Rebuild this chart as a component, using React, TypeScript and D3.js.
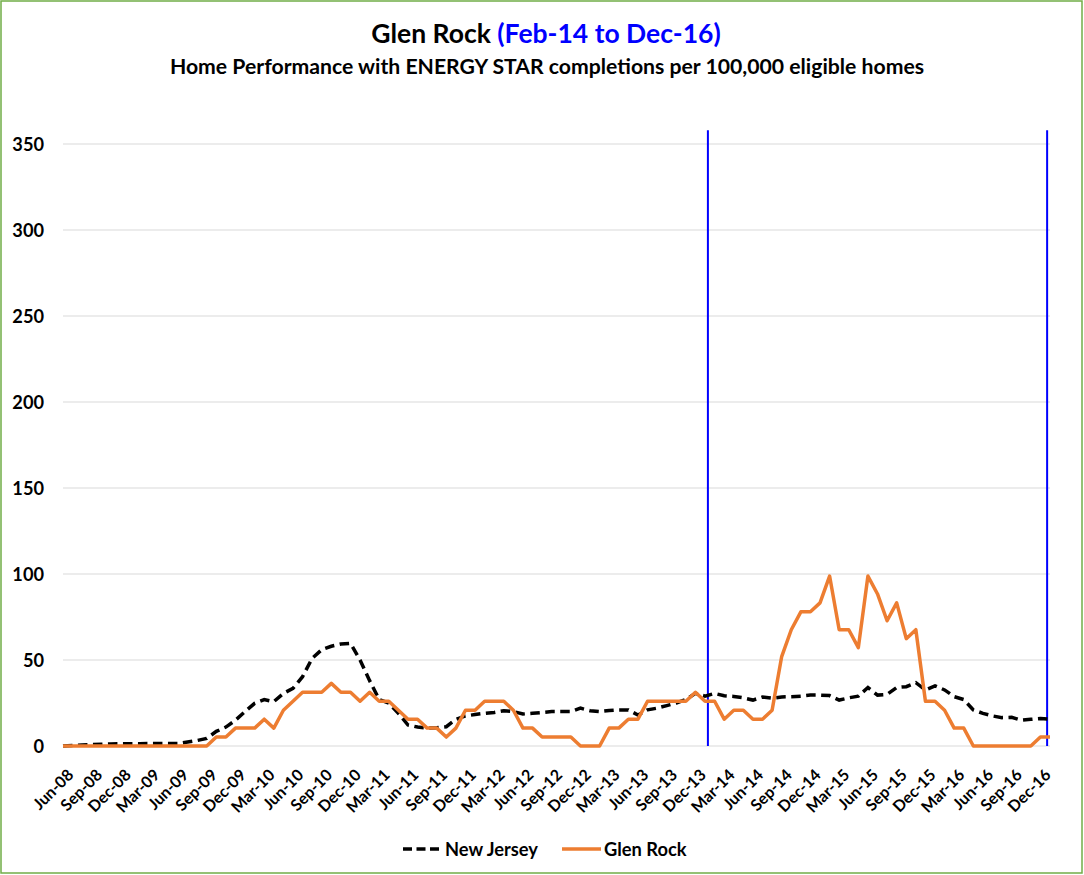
import React from 'react';
import * as d3 from 'd3';

// monthly categories, Jun-08 .. Jan-17
const months: string[] = d3
  .timeMonths(new Date(2008, 5, 1), new Date(2017, 1, 1))
  .map(d3.timeFormat('%b-%y'));

const tickLabels = [
  'Jun-08', 'Sep-08', 'Dec-08', 'Mar-09', 'Jun-09', 'Sep-09', 'Dec-09',
  'Mar-10', 'Jun-10', 'Sep-10', 'Dec-10', 'Mar-11', 'Jun-11', 'Sep-11',
  'Dec-11', 'Mar-12', 'Jun-12', 'Sep-12', 'Dec-12', 'Mar-13', 'Jun-13',
  'Sep-13', 'Dec-13', 'Mar-14', 'Jun-14', 'Sep-14', 'Dec-14', 'Mar-15',
  'Jun-15', 'Sep-15', 'Dec-15', 'Mar-16', 'Jun-16', 'Sep-16', 'Dec-16',
];

const newJersey = [
  0, 0.3, 0.6, 0.8, 1, 1.2, 1.3, 1.3, 1.3, 1.4, 1.4, 1.4, 1.5, 2.3, 3.2, 4.4,
  8.5, 11, 15, 20, 24.8, 27, 25.8, 30.6, 33.5, 40.3, 51, 56, 58, 59.3, 59.7, 50,
  38, 27, 25, 19, 12.2, 11, 10.4, 10.6, 11.2, 15.5, 17.5, 18.3, 19, 19.5, 20.5, 20,
  18.6, 19, 19.5, 20, 20, 20, 22, 20.5, 20, 20.6, 21, 21, 18, 21, 22, 23.5,
  25, 27, 30.6, 29, 30.6, 29.2, 28.8, 28, 26.7, 28.5, 27.8, 28.5, 28.7, 29, 29.6, 29.6,
  29.3, 26.7, 28, 29, 34, 29.6, 30, 34, 34.5, 36.8, 32.6, 35, 32.6, 28.7, 27, 21,
  19, 17.5, 16.5, 16.7, 15, 15.5, 16, 15.5,
];

const glenRock = [
  0, 0, 0, 0, 0, 0, 0, 0, 0, 0, 0, 0, 0, 0, 0, 0,
  5.2, 5.2, 10.4, 10.4, 10.4, 15.6, 10.4, 20.8, 26, 31.2, 31.2, 31.2, 36.4, 31.2, 31.2, 26,
  31.2, 26, 26, 20.8, 15.6, 15.6, 10.4, 10.4, 5.2, 10.4, 20.8, 20.8, 26, 26, 26, 20.8,
  10.4, 10.4, 5.2, 5.2, 5.2, 5.2, 0, 0, 0, 10.4, 10.4, 15.6, 15.6, 26, 26, 26,
  26, 26, 31.2, 26, 26, 15.6, 20.8, 20.8, 15.6, 15.6, 20.8, 52, 67.6, 78, 78, 83.2,
  98.8, 67.6, 67.6, 57.2, 98.8, 88.4, 72.8, 83.2, 62.4, 67.6, 26, 26, 20.8, 10.4, 10.4, 0,
  0, 0, 0, 0, 0, 0, 5.2, 5.2,
];

const yTicks = [0, 50, 100, 150, 200, 250, 300, 350];
const periodMarks = ['Feb-14', 'Dec-16'];

const W = 1084;
const H = 875;
const font = 'Lato, "Open Sans", sans-serif';

export default function App() {
  const x = d3.scaleLinear().domain([0, months.length - 1]).range([63, 1050]);
  const y = d3.scaleLinear().domain([0, 350]).range([746, 144]);

  const line = d3
    .line<number>()
    .x((_, i) => x(i))
    .y((d) => y(d));

  // vertical period markers sit just outside the period months
  const markX = [
    x(months.indexOf(periodMarks[0]) - 0.7),
    x(months.indexOf(periodMarks[1]) + 0.7),
  ];

  return (
    <svg
      width={W}
      height={H}
      style={{ position: 'absolute', left: 0, top: 0, background: '#fff' }}
      fontFamily={font}
    >
      <rect x={1} y={1} width={W - 3} height={H - 3} fill="#fff" stroke="#70AD47" strokeWidth={1.5} />

      <text x={546} y={43} textAnchor="middle" fontSize={26.5} fontWeight="bold">
        <tspan fill="#000">Glen Rock </tspan>
        <tspan fill="#0000FF">(Feb-14 to Dec-16)</tspan>
      </text>
      <text x={547} y={74} textAnchor="middle" fontSize={21.2} fontWeight="bold" fill="#000">
        Home Performance with ENERGY STAR completions per 100,000 eligible homes
      </text>

      {/* gridlines + y labels */}
      {yTicks.map((t) => (
        <g key={t}>
          <line x1={x(0)} x2={x(months.length - 1)} y1={y(t)} y2={y(t)} stroke="#D9D9D9" strokeWidth={1} />
          <text x={44} y={y(t)} dy="0.36em" textAnchor="end" fontSize={18.2} fontWeight="bold">
            {t}
          </text>
        </g>
      ))}

      {/* x labels, rotated like Excel's -45deg category labels */}
      {tickLabels.map((lab) => {
        const i = months.indexOf(lab);
        return (
          <text
            key={lab}
            transform={`translate(${x(i) + 11.5},${776}) rotate(-45)`}
            textAnchor="end"
            fontSize={16}
            fontWeight="bold"
          >
            {lab}
          </text>
        );
      })}

      {/* period markers */}
      {markX.map((mx, k) => (
        <line key={k} x1={mx} x2={mx} y1={y(358)} y2={y(0)} stroke="#0000FF" strokeWidth={2} />
      ))}

      <path d={line(newJersey) || ''} fill="none" stroke="#000" strokeWidth={3.5} strokeDasharray="9.5,5.5" />
      <path d={line(glenRock) || ''} fill="none" stroke="#ED7D31" strokeWidth={3.5} strokeLinejoin="round" />

      {/* legend */}
      <g fontSize={18.3} fontWeight="bold">
        <line x1={403} x2={442} y1={849} y2={849} stroke="#000" strokeWidth={3.5} strokeDasharray="9,4.5" />
        <text x={445} y={849} dy="0.36em">New Jersey</text>
        <line x1={562} x2={601} y1={849} y2={849} stroke="#ED7D31" strokeWidth={3.5} />
        <text x={604} y={849} dy="0.36em">Glen Rock</text>
      </g>
    </svg>
  );
}
